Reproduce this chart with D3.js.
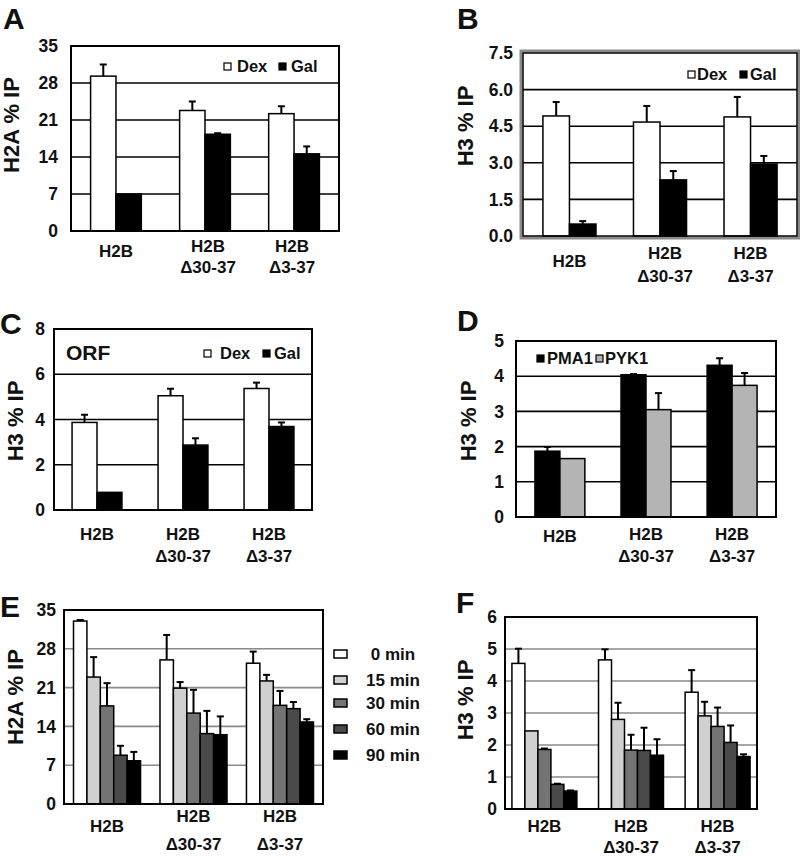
<!DOCTYPE html>
<html>
<head>
<meta charset="utf-8">
<script src="https://cdn.jsdelivr.net/npm/d3@7"></script>
<style>
  body { margin: 0; background: #fff; }
  svg text { font-family: "Liberation Sans", Arial, sans-serif; font-weight: bold; fill: #111; }
</style>
</head>
<body>
<svg id="fig" width="800" height="858"></svg>
<script>
'use strict';

// categories (multi-line tick labels)
var catLines = [['H2B'], ['H2B', 'Δ30-37'], ['H2B', 'Δ3-37']];

// A: H2A % IP, Dex / Gal
var dexA = [29.3, 22.8, 22.2], dexAErr = [31.5, 24.5, 23.6];
var galA = [7.0, 18.3, 14.6], galAErr = [7.0, 18.5, 16.0];
var ticksA = [0, 7, 14, 21, 28, 35];

// B: H3 % IP, Dex / Gal
var dexB = [4.92, 4.67, 4.88], dexBErr = [5.49, 5.33, 5.70];
var galB = [0.49, 2.30, 2.95], galBErr = [0.61, 2.66, 3.28];
var ticksB = [0, 1.5, 3.0, 4.5, 6.0, 7.5];

// C: H3 % IP at ORF, Dex / Gal
var dexC = [3.87, 5.05, 5.37], dexCErr = [4.21, 5.36, 5.63];
var galC = [0.78, 2.87, 3.69], galCErr = [0.78, 3.17, 3.87];
var ticksC = [0, 2, 4, 6, 8];

// D: H3 % IP, PMA1 / PYK1
var pma1 = [1.87, 4.04, 4.31], pma1Err = [1.99, 4.06, 4.51];
var pyk1 = [1.66, 3.05, 3.74], pyk1Err = [1.66, 3.52, 4.09];
var ticksD = [0, 1, 2, 3, 4, 5];

// E / F: time course
var timeLabels = ['0 min', '15 min', '30 min', '60 min', '90 min'];
var e0 = [33.0, 26.0, 25.4], e0Err = [33.2, 30.5, 27.5];
var e15 = [22.9, 20.9, 22.2], e15Err = [26.5, 22.0, 23.3];
var e30 = [17.7, 16.4, 17.8], e30Err = [21.8, 20.6, 20.4];
var e60 = [8.8, 12.7, 17.2], e60Err = [10.5, 16.8, 18.4];
var e90 = [7.8, 12.5, 14.8], e90Err = [9.4, 15.8, 15.3];
var ticksE = [0, 7, 14, 21, 28, 35];

var f0 = [4.55, 4.66, 3.65], f0Err = [5.01, 4.99, 4.34];
var f15 = [2.44, 2.80, 2.91], f15Err = [2.44, 3.32, 3.35];
var f30 = [1.86, 1.84, 2.58], f30Err = [1.89, 2.32, 3.17];
var f60 = [0.77, 1.83, 2.08], f60Err = [0.79, 2.54, 2.61];
var f90 = [0.56, 1.68, 1.64], f90Err = [0.58, 2.18, 1.71];
var ticksF = [0, 1, 2, 3, 4, 5, 6];

var timeFills = ['#ffffff', '#d0d0d0', '#747474', '#4a4a4a', '#000000'];

var svg = d3.select('#fig');

function drawPanel(cfg){
  var g = svg.append('g');
  var x0 = d3.scaleBand().domain(d3.range(catLines.length))
    .range([cfg.left, cfg.right]).paddingInner(cfg.pi).paddingOuter(cfg.po);
  var x1 = d3.scaleBand().domain(d3.range(cfg.series.length)).range([0, x0.bandwidth()]);
  var y = d3.scaleLinear().domain([0, cfg.ticks[cfg.ticks.length - 1]]).range([cfg.bottom, cfg.top]);

  // grid lines
  g.selectAll('.grid').data(cfg.ticks.slice(1, -1)).enter().append('line')
    .attr('x1', cfg.left).attr('x2', cfg.right)
    .attr('y1', function(d){ return y(d); }).attr('y2', function(d){ return y(d); })
    .attr('stroke', cfg.gridColor).attr('stroke-width', 1.6);

  if(cfg.doubleFrame){
    g.append('rect')
      .attr('x', cfg.left - 2).attr('y', cfg.top - 2)
      .attr('width', cfg.right - cfg.left + 4).attr('height', cfg.bottom - cfg.top + 4)
      .attr('fill', 'none').attr('stroke', '#8a8a8a').attr('stroke-width', 3);
  }

  // bars + error bars
  cfg.series.forEach(function(s, si){
    var bg = g.append('g');
    bg.selectAll('rect').data(s.values).enter().append('rect')
      .attr('x', function(d, i){ return x0(i) + x1(si); })
      .attr('y', function(d){ return y(d); })
      .attr('width', x1.bandwidth())
      .attr('height', function(d){ return y(0) - y(d); })
      .attr('fill', s.fill).attr('stroke', '#000').attr('stroke-width', 1.5);

    var errs = s.values.map(function(v, i){ return {v: v, e: s.errs[i], i: i}; })
      .filter(function(d){ return d.e > d.v; });
    var cx = function(d){ return x0(d.i) + x1(si) + x1.bandwidth() / 2; };
    bg.selectAll('line.err').data(errs).enter().append('line')
      .attr('x1', cx).attr('x2', cx)
      .attr('y1', function(d){ return y(d.v); }).attr('y2', function(d){ return y(d.e); })
      .attr('stroke', '#000').attr('stroke-width', 2);
    bg.selectAll('line.cap').data(errs).enter().append('line')
      .attr('x1', function(d){ return cx(d) - 3.5; }).attr('x2', function(d){ return cx(d) + 3.5; })
      .attr('y1', function(d){ return y(d.e); }).attr('y2', function(d){ return y(d.e); })
      .attr('stroke', '#000').attr('stroke-width', 2);
  });

  // frame
  g.append('rect')
    .attr('x', cfg.left).attr('y', cfg.top)
    .attr('width', cfg.right - cfg.left).attr('height', cfg.bottom - cfg.top)
    .attr('fill', 'none').attr('stroke', '#000').attr('stroke-width', cfg.doubleFrame ? 1.5 : 2);

  // y axis labels
  var ax = g.append('g').attr('transform', 'translate(' + cfg.left + ',0)')
    .call(d3.axisLeft(y).tickValues(cfg.ticks).tickSize(0).tickPadding(cfg.tickGap)
      .tickFormat(cfg.fmt ? d3.format(cfg.fmt) : d3.format('d')));
  ax.select('.domain').remove();
  ax.selectAll('text').attr('font-size', 17.5).attr('fill', '#111')
    .style('font-family', '"Liberation Sans", Arial, sans-serif').style('font-weight', 'bold');

  // y title
  g.append('text')
    .attr('transform', 'translate(' + cfg.titleX + ',' + cfg.titleY + ') rotate(-90)')
    .attr('text-anchor', 'middle').attr('font-size', 22)
    .text(cfg.yTitle);

  // category labels
  catLines.forEach(function(lines, i){
    var t = g.append('text').attr('text-anchor', 'middle').attr('font-size', 17)
      .attr('x', x0(i) + x0.bandwidth() / 2 + (cfg.labelShift ? cfg.labelShift[i] : 0));
    if(lines.length === 1){
      t.attr('y', cfg.bottom + cfg.single).text(lines[0]);
    } else {
      t.attr('y', cfg.bottom + cfg.line1);
      t.append('tspan').text(lines[0]);
      t.append('tspan').attr('x', t.attr('x')).attr('dy', cfg.line2 - cfg.line1).text(lines[1]);
    }
  });

  // panel letter
  g.append('text').attr('x', cfg.letterX).attr('y', cfg.letterY)
    .attr('font-size', 30).text(cfg.letter);

  if(cfg.legend){ cfg.legend(g); }
}

function squareKey(g, items, cy, size){
  items.forEach(function(it){
    g.append('rect').attr('x', it.sx).attr('y', cy - size / 2 + 0.5)
      .attr('width', size).attr('height', size)
      .attr('fill', it.fill).attr('stroke', '#000').attr('stroke-width', 1.2);
    g.append('text').attr('x', it.tx).attr('y', cy + 6).attr('font-size', 16.5).text(it.label);
  });
}

// A
drawPanel({
  letter: 'A', letterX: 3, letterY: 29,
  left: 71, right: 339, top: 46, bottom: 231, pi: 0.43, po: 0.22,
  ticks: ticksA, tickGap: 13, gridColor: '#000',
  yTitle: 'H2A % IP', titleX: 19, titleY: 125,
  single: 26, line1: 21, line2: 42, labelShift: [0, 3, -2],
  series: [{values: dexA, errs: dexAErr, fill: '#fff'}, {values: galA, errs: galAErr, fill: '#000'}],
  legend: function(g){
    squareKey(g, [{sx: 224, tx: 237, fill: '#fff', label: 'Dex'}, {sx: 279, tx: 291, fill: '#000', label: 'Gal'}], 66, 7);
  }
});

// B
drawPanel({
  letter: 'B', letterX: 457, letterY: 29,
  left: 523, right: 797, top: 53, bottom: 236, pi: 0.414, po: 0.22,
  ticks: ticksB, tickGap: 10, fmt: '.1f', gridColor: '#000', doubleFrame: true,
  yTitle: 'H3 % IP', titleX: 473, titleY: 126,
  single: 31, line1: 23, line2: 46, labelShift: [0, 5, 0],
  series: [{values: dexB, errs: dexBErr, fill: '#fff'}, {values: galB, errs: galBErr, fill: '#000'}],
  legend: function(g){
    squareKey(g, [{sx: 688, tx: 697, fill: '#fff', label: 'Dex'}, {sx: 740, tx: 750, fill: '#000', label: 'Gal'}], 74, 7);
  }
});

// C
drawPanel({
  letter: 'C', letterX: 0, letterY: 334,
  left: 54, right: 312, top: 329, bottom: 510, pi: 0.42, po: 0.21,
  ticks: ticksC, tickGap: 9, gridColor: '#000',
  yTitle: 'H3 % IP', titleX: 23, titleY: 421,
  single: 30, line1: 30, line2: 52, labelShift: [0, 0, 0],
  series: [{values: dexC, errs: dexCErr, fill: '#fff'}, {values: galC, errs: galCErr, fill: '#000'}],
  legend: function(g){
    g.append('text').attr('x', 66).attr('y', 360).attr('font-size', 21).text('ORF');
    squareKey(g, [{sx: 204, tx: 220, fill: '#fff', label: 'Dex'}, {sx: 263, tx: 274, fill: '#000', label: 'Gal'}], 353, 7);
  }
});

// D
drawPanel({
  letter: 'D', letterX: 457, letterY: 331,
  left: 516, right: 776, top: 341, bottom: 517, pi: 0.42, po: 0.22,
  ticks: ticksD, tickGap: 12, gridColor: '#000',
  yTitle: 'H3 % IP', titleX: 476, titleY: 421,
  single: 25, line1: 23, line2: 45, labelShift: [0, 0, 0],
  series: [{values: pma1, errs: pma1Err, fill: '#000'}, {values: pyk1, errs: pyk1Err, fill: '#b4b4b4'}],
  legend: function(g){
    squareKey(g, [{sx: 537, tx: 547, fill: '#000', label: 'PMA1'}, {sx: 596, tx: 605, fill: '#b4b4b4', label: 'PYK1'}], 358, 7);
  }
});

// E
drawPanel({
  letter: 'E', letterX: 0, letterY: 617,
  left: 64, right: 323, top: 610, bottom: 804, pi: 0.225, po: 0.11,
  ticks: ticksE, tickGap: 8, gridColor: '#8a8a8a',
  yTitle: 'H2A % IP', titleX: 23, titleY: 697,
  single: 28, line1: 18, line2: 46, labelShift: [0, 0, 0],
  series: [
    {values: e0, errs: e0Err, fill: timeFills[0]},
    {values: e15, errs: e15Err, fill: timeFills[1]},
    {values: e30, errs: e30Err, fill: timeFills[2]},
    {values: e60, errs: e60Err, fill: timeFills[3]},
    {values: e90, errs: e90Err, fill: timeFills[4]}
  ],
  legend: function(g){
    var ys = [654, 680, 703, 729, 755];
    timeLabels.forEach(function(lbl, i){
      g.append('rect').attr('x', 334).attr('y', ys[i] - 4).attr('width', 13).attr('height', 8)
        .attr('fill', timeFills[i]).attr('stroke', '#000').attr('stroke-width', 1.5);
      g.append('text').attr('x', 393).attr('y', ys[i] + 6).attr('text-anchor', 'middle')
        .attr('font-size', 17).text(lbl);
    });
  }
});

// F
drawPanel({
  letter: 'F', letterX: 456, letterY: 613,
  left: 505, right: 757, top: 617, bottom: 809, pi: 0.25, po: 0.08,
  ticks: ticksF, tickGap: 8, gridColor: '#8a8a8a',
  yTitle: 'H3 % IP', titleX: 473, titleY: 700,
  single: 23, line1: 23, line2: 44, labelShift: [0, 0, 0],
  series: [
    {values: f0, errs: f0Err, fill: timeFills[0]},
    {values: f15, errs: f15Err, fill: timeFills[1]},
    {values: f30, errs: f30Err, fill: timeFills[2]},
    {values: f60, errs: f60Err, fill: timeFills[3]},
    {values: f90, errs: f90Err, fill: timeFills[4]}
  ]
});
</script>
</body>
</html>
